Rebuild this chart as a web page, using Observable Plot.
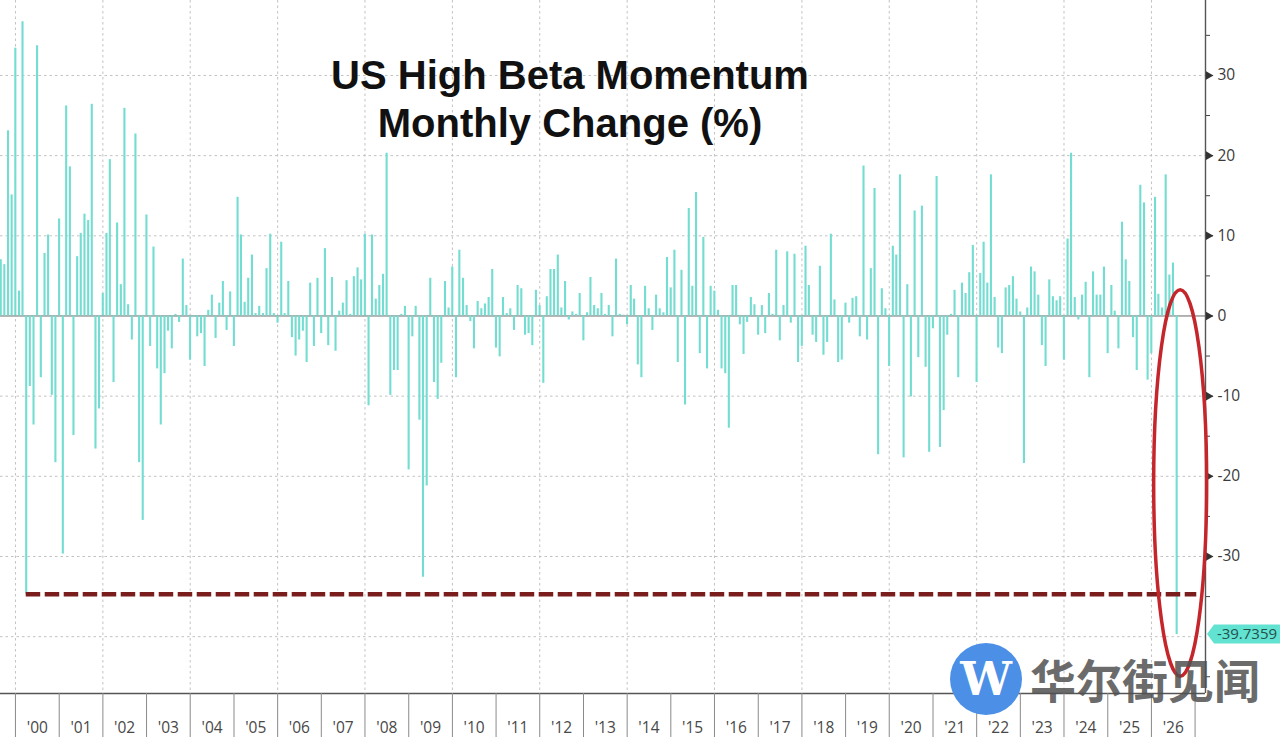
<!DOCTYPE html>
<html>
<head>
<meta charset="utf-8">
<script src="https://cdn.jsdelivr.net/npm/d3@7"></script>
<script src="https://cdn.jsdelivr.net/npm/@observablehq/plot@0.6"></script>
<style>
html,body{margin:0;padding:0;background:#fff;overflow:hidden}
#wrap{position:relative;width:1280px;height:737px}
#title{position:absolute;left:320px;top:51px;width:500px;text-align:center;font-family:"Liberation Sans",Arial,sans-serif;font-weight:bold;font-size:40px;line-height:48px;color:#111;white-space:nowrap}
#wm-circle{position:absolute;left:950px;top:643px;width:72px;height:72px;border-radius:50%;background:#4b8fe6;color:#fff;font-family:"DejaVu Serif",serif;font-weight:bold;font-size:46px;line-height:72px;text-align:center}
#wm-text{position:absolute;left:1030px;top:654px;font-family:"Noto Sans CJK SC",sans-serif;font-weight:700;font-size:46px;line-height:48px;color:rgba(80,80,80,0.85);white-space:nowrap;letter-spacing:0px}
</style>
</head>
<body>
<div id="wrap">
  <div id="chart"></div>
  <div id="title">US High Beta Momentum<br>Monthly Change (%)</div>
  <div id="wm-circle">W</div>
  <div id="wm-text">华尔街见闻</div>
</div>
<script>
// First bar: August 1999 (month-end), monthly thereafter
const startYear = 1999, startMonth = 7;

// Monthly change (%), in segments
const vAug1999_Mar2003 = [7.0, 6.4, 23.1, 15.1, 33.4, 3.1, 36.7, -34.7, -8.8, -13.6, 33.7, -7.7, 7.8, 10.1, -9.9, -18.3, 12.1, -29.7, 26.2, 18.6, -14.9, 7.4, 10.3, 12.7, 11.9, 26.4, -16.6, -11.6, 2.8, 10.3, 19.5, -8.3, 11.6, 3.9, 25.9, 1.4, -3.0, 22.7, -18.3, -25.5, 12.6, -3.8, 8.6, -6.6];
const vApr2003_Nov2006 = [-13.6, -7.2, -1.9, -4.1, 0.2, -0.8, 7.1, 1.3, -5.5, -0.2, -2.6, -2.2, -6.3, 0.7, 2.6, -2.8, 1.6, 4.3, -1.8, 3.0, -3.8, 14.8, 10.1, 1.7, 4.7, 7.6, 0.3, 1.2, 0.3, 5.9, 10.2, 0.3, -0.9, 9.2, 0.3, 4.3, -2.7, -5.0, -3.0, -1.9, -5.8, 4.1, -3.8, 4.7];
const vDec2006_Jul2010 = [-2.2, 8.4, -3.7, 4.8, -4.4, 0.6, 1.6, 4.4, 0.2, 4.9, 6.0, 4.5, 10.2, -11.2, 10.1, 2.1, 3.8, 5.2, 20.3, -9.9, -6.8, -6.8, 0.2, 1.2, -19.2, -2.6, 1.2, -13.0, -32.6, -21.2, 4.7, -8.3, -10.4, -5.9, 4.3, 1.0, 6.1, -7.7, 8.2, 4.7, 1.3, -0.7, -4.1, 1.8];
const vAug2010_Apr2014 = [0.9, 1.5, 2.3, 5.8, -4.0, -5.1, 2.3, 0.3, 0.9, -1.8, 3.8, 3.4, -2.4, -2.2, -3.7, 3.2, 1.3, -8.4, 2.4, 5.8, 5.8, 7.6, 1.0, 4.3, -0.5, 0.5, 0.2, 2.8, -3.1, 0.4, 4.8, 1.3, 0.9, 2.8, 0.2, 1.3, -2.6, 7.1, 0.2, 0.1, -1.1, 3.8, 2.1, -6.1, -7.7];
const vMay2014_Dec2017 = [3.7, 0.9, -1.8, 2.6, 0.9, 0.4, 7.3, 3.5, 8.2, -5.8, 5.7, -11.1, 13.4, 3.7, 15.4, -4.7, 9.8, -6.6, 3.7, 3.1, 0.7, -6.6, -7.2, -14.0, 3.8, 3.8, -1.1, -4.8, -0.8, 2.3, 1.4, -2.4, 1.3, -2.2, 2.8, 0.2, 8.2, -3.1, 1.3, 8.0, -0.9, 7.7, -5.8, -3.8];
const vJan2018_Aug2021 = [8.7, 3.8, -2.4, -3.3, 6.2, -4.9, -3.3, 10.2, 2.0, -5.8, -5.5, 1.6, -0.9, 2.2, 2.4, -2.6, 18.7, -3.0, 5.9, 15.9, -17.3, 3.4, 0.9, -6.3, 8.7, 7.6, 17.6, -17.7, 3.9, -10.1, 13.1, -5.2, 13.7, -6.4, -17.0, -1.6, 17.4, -16.4, -11.8, -2.4, 0.2, 3.2, -7.7, 4.1];
const vSep2021_Apr2025 = [2.8, 5.4, 8.8, -8.3, 5.3, 9.2, 4.1, 17.6, 2.3, -4.0, -4.7, 3.5, 3.8, 4.9, 2.1, 0.5, -18.4, 1.0, 6.1, 5.5, 2.6, -3.7, -6.3, 4.5, 2.4, 1.9, 2.4, -5.5, 9.6, 20.3, 2.3, -0.5, 2.6, 4.2, -7.7, 5.5, 2.6, 2.6, 6.1, -4.7, 3.8, 0.6, -4.1, 11.7];
const vMay2025_Jul2026 = [7.0, 4.3, -2.7, -6.8, 16.3, 14.1, -8.0, -4.7, 14.8, 2.7, 1.0, 17.6, 5.1, 6.6, -39.7359];

// Axis ticks
const yMajorTicks = [-30, -20, -10, 0, 10, 20, 30];
const yMinorTicks = [-45, -35, -25, -15, -5, 5, 15, 25, 35];
const yGrid = [-40, -30, -20, -10, 10, 20, 30];
const tickYears = d3.range(2000, 2028);
const gridYears = d3.range(2000, 2027, 2);
const labelYears = d3.range(2000, 2027);

// Annotation values
const thresholdLevel = -34.7;          // dashed reference line (March 2000 low)
const thresholdEnd = new Date(Date.UTC(2027, 0, 15));
const ellipseTop = 3.2, ellipseBottom = -45;

const values = [].concat(vAug1999_Mar2003, vApr2003_Nov2006, vDec2006_Jul2010, vAug2010_Apr2014,
  vMay2014_Dec2017, vJan2018_Aug2021, vSep2021_Apr2025, vMay2025_Jul2026);
const data = values.map((v, i) => ({date: new Date(Date.UTC(startYear, startMonth + i + 1, 0)), value: v}));
const last = data[data.length - 1];
const marchLow = data[7];

const xDomain = [new Date(Date.UTC(1999, 7, 29)), new Date(Date.UTC(2027, 2, 29))];
const yDomain = [-47.09, 39.35];
const jan1 = y => new Date(Date.UTC(y, 0, 1));
const midYear = y => new Date(Date.UTC(y, 6, 2));
const barColor = "#72ddd0";

const chart = Plot.plot({
  width: 1280,
  height: 737,
  marginLeft: 0,
  marginRight: 75,
  marginTop: 0,
  marginBottom: 44,
  style: {fontFamily: "'Open Sans', sans-serif", background: "transparent", overflow: "hidden"},
  x: {type: "utc", domain: xDomain},
  y: {domain: yDomain},
  marks: [
    Plot.ruleY(yGrid, {stroke: "#c2c2c2", strokeDasharray: "2.5,3"}),
    Plot.ruleX(gridYears.map(jan1), {stroke: "#c2c2c2", strokeDasharray: "2.5,3"}),
    Plot.ruleY([0], {stroke: "#666", strokeWidth: 1}),
    Plot.ruleX(data, {x: "date", y1: 0, y2: "value", stroke: barColor, strokeWidth: 2.1}),
    Plot.ruleY([{y: thresholdLevel, x1: marchLow.date, x2: thresholdEnd}],
      {y: "y", x1: "x1", x2: "x2", stroke: "#7a1d1d", strokeWidth: 4.5, strokeDasharray: "14.5,4.5"}),
    // frame lines
    Plot.ruleY([yDomain[0]], {stroke: "#555", strokeWidth: 1.4}),
    Plot.ruleX([xDomain[1]], {stroke: "#555", strokeWidth: 1.4, y1: yDomain[1], y2: yDomain[0]}),
    // bottom axis ticks and labels
    Plot.axisX(tickYears.map(jan1), {anchor: "bottom", tickSize: 44, tickFormat: () => "", color: "#8a8a8a", label: null}),
    Plot.axisX(labelYears.map(midYear), {anchor: "bottom", tickSize: 0, tickPadding: 28, fontSize: 15.5, color: "#484848",
      tickFormat: d => "'" + String(d.getUTCFullYear()).slice(2), label: null}),
    // right axis
    Plot.axisY(yMinorTicks, {anchor: "right", tickSize: 4, tickFormat: () => "", color: "#444", label: null}),
    Plot.axisY(yMajorTicks, {anchor: "right", tickSize: 7, tickPadding: 5, fontSize: 15.5, color: "#3a3a3a",
      tickFormat: d => String(d), label: null}),
    Plot.dot(yMajorTicks, {y: d => d, frameAnchor: "right", symbol: "triangle", rotate: 90, r: 3.2, dx: 3, fill: "#333"})
  ]
});
document.getElementById("chart").appendChild(chart);

const sx = chart.scale("x"), sy = chart.scale("y");
const svg = d3.select(chart);

// latest value label (turquoise tag)
const cy = sy.apply(last.value);
const lx = sx.apply(xDomain[1]) + 2;
const g = svg.append("g");
g.append("path")
  .attr("d", `M${lx},${cy} L${lx + 7},${cy - 9.5} L${lx + 72},${cy - 9.5} Q${lx + 74},${cy - 9.5} ${lx + 74},${cy - 7.5} L${lx + 74},${cy + 7.5} Q${lx + 74},${cy + 9.5} ${lx + 72},${cy + 9.5} L${lx + 7},${cy + 9.5} Z`)
  .attr("fill", "#62e2d1");
g.append("text")
  .attr("x", lx + 40).attr("y", cy).attr("dy", "0.35em")
  .attr("text-anchor", "middle")
  .attr("font-family", "'Open Sans', sans-serif").attr("font-size", 15)
  .attr("fill", "#24504c")
  .text(String(last.value));

// red ellipse around the latest bar
const ey1 = sy.apply(ellipseTop), ey2 = sy.apply(ellipseBottom);
svg.append("ellipse")
  .attr("cx", sx.apply(last.date) + 4)
  .attr("cy", (ey1 + ey2) / 2)
  .attr("rx", 26.5)
  .attr("ry", (ey2 - ey1) / 2)
  .attr("fill", "none")
  .attr("stroke", "#c4262b")
  .attr("stroke-width", 3.5);
</script>
</body>
</html>
